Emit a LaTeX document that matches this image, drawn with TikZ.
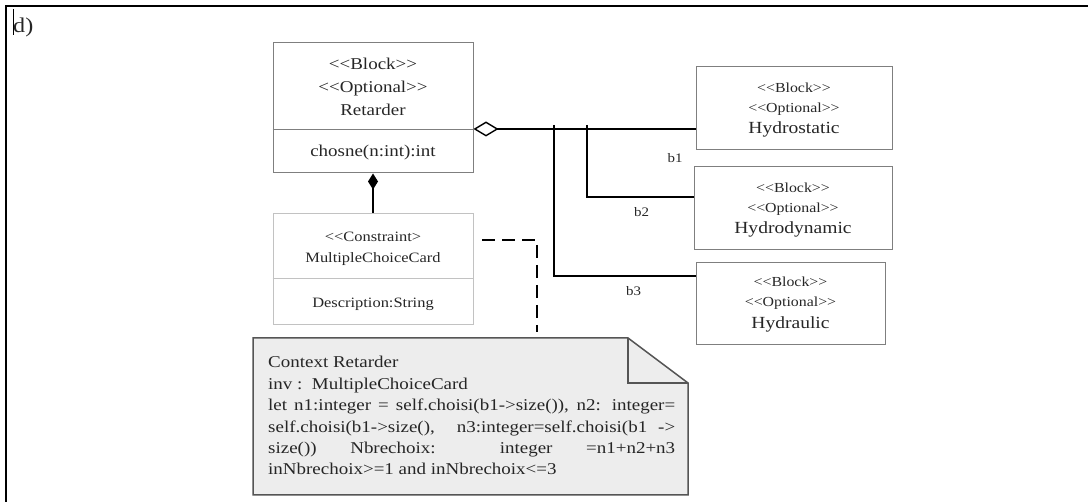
\documentclass[tikz,border=0pt]{standalone}
\usepackage{fontspec}
\setmainfont[FakeStretch=1.15,Ligatures=TeXOff]{Liberation Serif}
\usetikzlibrary{positioning,arrows.meta}

\definecolor{boxgray}{HTML}{7F7F7F}
\definecolor{lightbox}{HTML}{C2C2C2}
\definecolor{notegray}{HTML}{555555}
\definecolor{notefill}{HTML}{EDEDED}
\definecolor{inkgray}{HTML}{262626}

\newcommand{\umlname}{\fontsize{16.5pt}{19pt}\selectfont}
\newcommand{\umlsmall}{\fontsize{14.3pt}{17pt}\selectfont}
\newcommand{\umlstereo}{\fontsize{13.8pt}{16pt}\selectfont}
\newcommand{\umlbig}{\fontsize{17pt}{20pt}\selectfont}
\newcommand{\roletext}{\fontsize{13pt}{15pt}\selectfont}
\newcommand{\notetext}{\fontsize{16.5pt}{19pt}\selectfont}

\tikzset{
  umlbox/.style={draw=boxgray, line width=1pt, rectangle, inner sep=0pt},
  link/.style={draw=black, line width=1.4pt},
  depend/.style={draw=black, line width=1.2pt, dash pattern=on 13pt off 7pt},
  lbl/.style={text=inkgray, inner sep=0pt, anchor=base},
}

\begin{document}
\begin{tikzpicture}[x=1pt,y=-1pt]
      \useasboundingbox (0,0) rectangle (1088,502);

      % Frame
      \draw[line width=1.5pt] (6,502) -- (6,6) -- (1088,6);
      \draw[line width=0.6pt] (13,9) -- (13,35);
      \node[lbl, anchor=base west] (tag) at (13,33) {\fontsize{21pt}{24pt}\selectfont d)};

      % Retarder block
      \node[umlbox, minimum width=200pt, minimum height=130pt] (ret) at (373,108) {};
      \draw[boxgray, line width=1pt] (ret.west |- 0,130) -- (ret.east |- 0,130);
      %
      \node[lbl] (retS1) at (373,70) {\umlname <<Block>>};
      \node[lbl] (retS2) at (373,93) {\umlname <<Optional>>};
      \node[lbl] (retN) at (373,116) {\umlname Retarder};
      \node[lbl] (retOp) at (373,157) {\umlname chosne(n:int):int};

      %%%%%%%%%%%%%%%%%%%%%%%%%%

      % Constraint
      \node[umlbox, draw=lightbox, minimum width=200pt, minimum height=111pt] (con) at (373,269.5) {};
      \draw[lightbox, line width=1pt] (con.west |- 0,279) -- (con.east |- 0,279);
      %
      \node[lbl] (conS) at (373,242) {\umlsmall <<Constraint>};
      \node[lbl] (conN) at (373,263) {\umlsmall MultipleChoiceCard};
      \node[lbl] (conA) at (373,308) {\umlsmall Description:String};

      % Composition
      \draw[link, {Diamond[length=16pt,width=10pt]}-] (ret.south) -- (con.north);

      %%%%%%%%%%%%%%%%%%%%%%%%%%

      % Optional blocks
      \node[umlbox, minimum width=196pt, minimum height=83pt] (hs) at (794,108.5) {};
      \node[lbl] (hsS1) at (794,93) {\umlstereo <<Block>>};
      \node[lbl] (hsS2) at (794,113) {\umlstereo <<Optional>>};
      \node[lbl] (hsN) at (794,134) {\umlbig Hydrostatic};
      %
      \node[umlbox, minimum width=198pt, minimum height=83pt] (hd) at (793,208.5) {};
      \node[lbl] (hdS1) at (793,193) {\umlstereo <<Block>>};
      \node[lbl] (hdS2) at (793,213) {\umlstereo <<Optional>>};
      \node[lbl] (hdN) at (793,234) {\umlbig Hydrodynamic};
      %
      \node[umlbox, minimum width=189pt, minimum height=82pt] (hy) at (790.5,304) {};
      \node[lbl] (hyS1) at (790.5,287) {\umlstereo <<Block>>};
      \node[lbl] (hyS2) at (790.5,307) {\umlstereo <<Optional>>};
      \node[lbl] (hyN) at (790.5,329) {\umlbig Hydraulic};

      % Aggregation and branches
      \draw[link, {Diamond[open,length=25pt,width=15pt]}-] (ret.east |- 0,129) -- (hs.west |- 0,129);
      \coordinate (t3) at (554,125);
      \coordinate (t2) at (587,125);
      \draw[link] (t3) |- (hy.west |- 0,276);
      \draw[link] (t2) |- (hd.west |- 0,197);
      %
      \node[lbl, anchor=center] (b1) at (675,158) {\roletext b1};
      \node[lbl, anchor=center] (b2) at (641.5,212.5) {\roletext b2};
      \node[lbl, anchor=center] (b3) at (633.5,291) {\roletext b3};

      %%%%%%%%%%%%%%%%%%%%%%%%%%

      % Note
      \filldraw[draw=notegray, fill=notefill, line width=1.5pt]
        (253,338) -- (628,338) -- (688,383) -- (688,495) -- (253,495) -- cycle;
      \draw[notegray, line width=1.5pt] (628,338) -- (628,383) -- (688,383);
      %
      \node[lbl, anchor=base west] (n1) at (268,368) {\notetext Context Retarder};
      \node[lbl, anchor=base west] (n2) at (268,389.4) {\notetext inv :\ \ MultipleChoiceCard};
      \node[lbl, anchor=base west] (n3) at (268,410.8) {\notetext\makebox[407pt][s]{let n1:integer = self.choisi(b1->size()), n2: integer=}};
      \node[lbl, anchor=base west] (n4) at (268,432.2) {\notetext\makebox[407pt][s]{self.choisi(b1->size(),\ \ n3:integer=self.choisi(b1 ->}};
      \node[lbl, anchor=base west] (n5) at (268,453.6) {\notetext\makebox[407pt][s]{size()) Nbrechoix: integer =n1+n2+n3}};
      \node[lbl, anchor=base west] (n6) at (268,475) {\notetext inNbrechoix>=1 and inNbrechoix<=3};

      % Dependency
      \coordinate (dep) at (482,240);
      \coordinate (noteTop) at (537,332);
      \draw[depend] (dep) -| (noteTop);
\end{tikzpicture}
\end{document}
